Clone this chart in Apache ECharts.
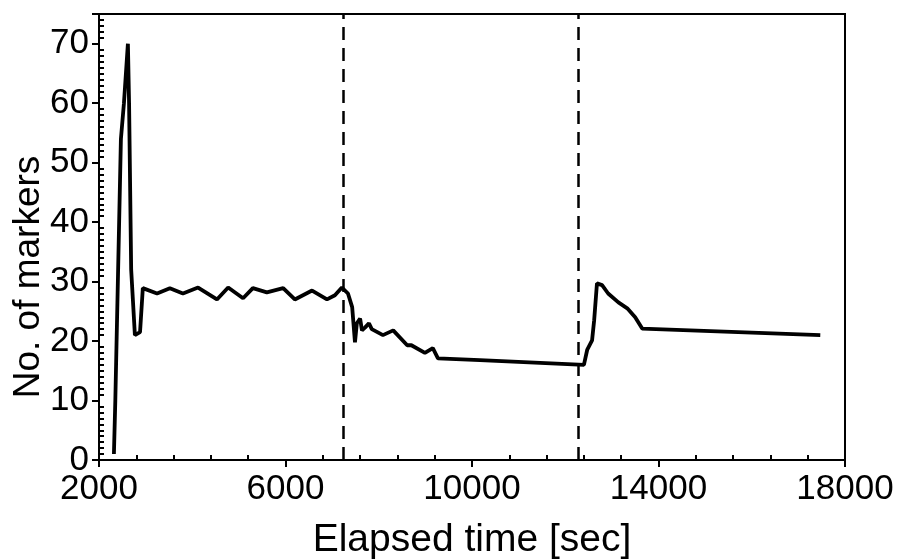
<!DOCTYPE html>
<html>
<head>
<meta charset="utf-8">
<script src="https://cdn.jsdelivr.net/npm/echarts@6/dist/echarts.min.js"></script>
<style>html,body{margin:0;padding:0;background:#fff}#c{width:902px;height:559px}</style>
</head>
<body>
<div id="c"></div>
<script>
const times = [2320, 2350, 2410, 2470, 2535, 2620, 2645, 2690, 2770, 2880, 2940, 3245, 3520, 3800, 4125, 4530, 4770, 5090, 5300, 5600, 5950, 6200, 6570, 6890, 7060, 7210, 7340, 7430, 7490, 7530, 7600, 7640, 7710, 7790, 7850, 8090, 8310, 8610, 8700, 8990, 9160, 9270, 10170, 12400, 12470, 12575, 12620, 12680, 12790, 12920, 13140, 13330, 13500, 13650, 17470];
const markers = [1, 10, 32, 54, 60, 70, 60, 32, 21, 21.5, 28.9, 28.0, 28.9, 28.0, 29.0, 27.0, 29.0, 27.2, 28.9, 28.2, 28.9, 27.0, 28.5, 27.0, 27.7, 29.0, 28.0, 25.7, 19.8, 23.0, 23.8, 21.8, 22.3, 23.0, 22.0, 21.0, 21.8, 19.3, 19.3, 18.0, 18.8, 17.1, 16.8, 16.0, 18.5, 20.1, 23.5, 29.7, 29.4, 28.0, 26.5, 25.5, 24.0, 22.1, 21.0];
const dashedTimes = [7230, 12280];
const xTitle = 'Elapsed time [sec]';
const yTitle = 'No. of markers';

const chart = echarts.init(document.getElementById('c'));
const font = 'Liberation Sans, Arial, sans-serif';
chart.setOption({
  animation: false,
  grid: { left: 99, right: 57, top: 14, bottom: 99, show: true, borderColor: '#000', borderWidth: 2,
    backgroundColor: 'transparent', outerBoundsMode: 'none', containLabel: false },
  xAxis: {
    type: 'value', min: 2000, max: 18000, interval: 4000,
    name: xTitle, nameLocation: 'middle', nameGap: 61, nameMoveOverlap: false,
    nameTextStyle: { fontFamily: font, fontSize: 39, color: '#000' },
    axisLine: { lineStyle: { color: '#000', width: 2 } },
    axisTick: { show: true, length: 7, lineStyle: { color: '#000', width: 2 } },
    minorTick: { show: true, splitNumber: 5, length: -5, lineStyle: { color: '#000', width: 2 } },
    axisLabel: { fontFamily: font, fontSize: 35, color: '#000', margin: 12, formatter: v => String(v) },
    splitLine: { show: false }
  },
  yAxis: {
    type: 'value', min: 0, max: 75, interval: 10,
    name: yTitle, nameLocation: 'middle', nameGap: 52, nameMoveOverlap: false,
    nameTextStyle: { fontFamily: font, fontSize: 37, color: '#000', padding: [0, 80, 0, 0] },
    axisLine: { lineStyle: { color: '#000', width: 2 } },
    axisTick: { show: true, length: 7, lineStyle: { color: '#000', width: 2 } },
    minorTick: { show: true, splitNumber: 10, length: -5, lineStyle: { color: '#000', width: 2 } },
    axisLabel: { fontFamily: font, fontSize: 35, color: '#000', margin: 10,
      formatter: v => (v % 10 === 0 ? String(v) : '') },
    splitLine: { show: false }
  },
  series: [{
    type: 'line',
    data: times.map((t, i) => [t, markers[i]]),
    symbol: 'none',
    lineStyle: { color: '#000', width: 3.8 },
    markLine: {
      silent: true, symbol: 'none', label: { show: false },
      lineStyle: { color: '#000', width: 2.5, type: [13, 8] },
      data: dashedTimes.map(t => ({ xAxis: t }))
    }
  }]
});
</script>
</body>
</html>
